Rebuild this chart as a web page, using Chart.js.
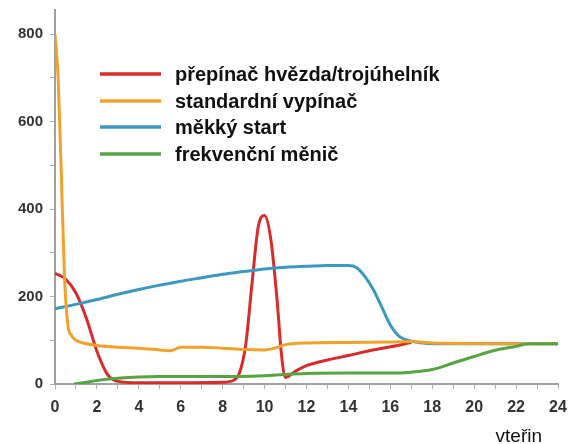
<!DOCTYPE html>
<html>
<head>
<meta charset="utf-8">
<script src="https://cdn.jsdelivr.net/npm/chart.js@4.4.0/dist/chart.umd.min.js"></script>
<style>
html,body{margin:0;padding:0;background:#fff;}
#wrap{position:relative;width:569px;height:444px;}
</style>
</head>
<body>
<div id="wrap"><canvas id="c" width="569" height="444"></canvas></div>
<script>
// ---- data (seconds, current) ----
const seriesNames = ['přepínač hvězda/trojúhelník','standardní vypínač','měkký start','frekvenční měnič'];
const xAxisTitle = 'vteřin';

const starDeltaT = [0,0.5,1,1.5,2,2.5,3,4,6,8,8.5,8.8,9.1,9.4,9.7,10,10.3,10.6,10.8,11,11.5,12,13,14,15,16,17];
const starDeltaV = [253,240,208,150,75,22,6,3,3,4,8,25,90,230,360,385,330,190,70,15,30,42,55,65,76,85,95];

const directT = [0,0.15,0.3,0.45,0.6,0.8,1,1.5,2,3,4,5,5.5,6,7,8,9,10,10.5,11,12,14,16,17,18,24];
const directV = [800,700,480,250,140,110,100,92,88,84,82,78,76,84,84,82,79,78,82,90,94,95,96,97,94,92];

const softT = [0,1,2,3,4,5,6,7,8,9,10,11,12,13,14,14.4,14.8,15.2,15.6,16,16.4,17,17.5,18,20,24];
const softV = [172,182,193,205,216,226,235,243,251,257,263,267,269,271,271,266,245,215,175,135,110,98,94,92,92,92];

const vfdT = [0.9,1.5,2,3,4,5,6,8,10,11,12,14,16,17,18,19,20,21,22,22.6,24];
const vfdV = [0,4,8,13,16,17,17,17,19,22,24,25,25,27,33,48,63,77,86,92,92];

const yTicks = [0,100,200,300,400,500,600,700,800];
const colors = ['#d92b2a','#f2a22a','#3b98bf','#55a544'];

function pts(t, v){ return t.map((x,i)=>({x:x,y:v[i]})); }

const legendPlugin = {
  id:'customLegend',
  afterDatasetsDraw(chart){
    const ctx = chart.ctx;
    ctx.save();
    const ys = [74,101,127,154];
    seriesNames.forEach((name,i)=>{
      ctx.strokeStyle = colors[i];
      ctx.lineWidth = 3.5;
      ctx.beginPath();
      ctx.moveTo(100, ys[i]);
      ctx.lineTo(161, ys[i]);
      ctx.stroke();
      ctx.fillStyle = '#111';
      ctx.font = 'bold 20px "Liberation Sans", Arial, sans-serif';
      ctx.textBaseline = 'middle';
      ctx.textAlign = 'left';
      ctx.fillText(name, 175, ys[i] + 1);
    });
    ctx.fillStyle = '#111';
    ctx.font = '19px "Liberation Sans", Arial, sans-serif';
    ctx.textAlign = 'right';
    ctx.textBaseline = 'middle';
    ctx.fillText(xAxisTitle, 542, 437);
    ctx.restore();
  }
};

const mk = (label, t, v, i) => ({
  label: label,
  data: pts(t, v),
  borderColor: colors[i],
  backgroundColor: colors[i],
  borderWidth: 3,
  pointRadius: 0,
  cubicInterpolationMode: 'monotone',
  fill: false
});

new Chart(document.getElementById('c'), {
  type: 'line',
  data: {
    datasets: [
      mk(seriesNames[3], vfdT, vfdV, 3),
      mk(seriesNames[1], directT, directV, 1),
      mk(seriesNames[2], softT, softV, 2),
      mk(seriesNames[0], starDeltaT, starDeltaV, 0)
    ]
  },
  options: {
    responsive: false,
    animation: false,
    events: [],
    layout: { padding: { top: 10, right: 11, left: 0, bottom: 0 } },
    plugins: { legend: { display: false }, tooltip: { enabled: false } },
    scales: {
      x: {
        type: 'linear',
        min: 0, max: 24,
        border: { display: true, color: '#a0a0a0', width: 2 },
        grid: { drawOnChartArea: false, drawTicks: true, tickLength: 5, color: '#b0b0b0' },
        ticks: {
          stepSize: 1,
          autoSkip: false,
          maxRotation: 0,
          padding: 9,
          color: '#333',
          font: { family: '"Liberation Sans", Arial, sans-serif', size: 16, weight: 'bold' },
          callback: (v) => (v % 2 === 0 ? String(v) : '')
        },
        afterFit: (s) => { s.height = 60; s.paddingLeft = 0; s.paddingRight = 0; }
      },
      y: {
        type: 'linear',
        min: 0, max: 855,
        border: { display: true, color: '#a0a0a0', width: 2 },
        grid: { drawOnChartArea: false, drawTicks: true, tickLength: 5, color: '#b0b0b0' },
        afterBuildTicks: (s) => { s.ticks = yTicks.map(v => ({ value: v })); },
        ticks: {
          padding: 7,
          color: '#333',
          font: { family: '"Liberation Sans", Arial, sans-serif', size: 15, weight: 'bold' },
          callback: (v) => (v % 200 === 0 ? String(v) : '')
        },
        afterFit: (s) => { s.width = 55; s.paddingTop = 0; s.paddingBottom = 0; }
      }
    }
  },
  plugins: [legendPlugin]
});
</script>
</body>
</html>
